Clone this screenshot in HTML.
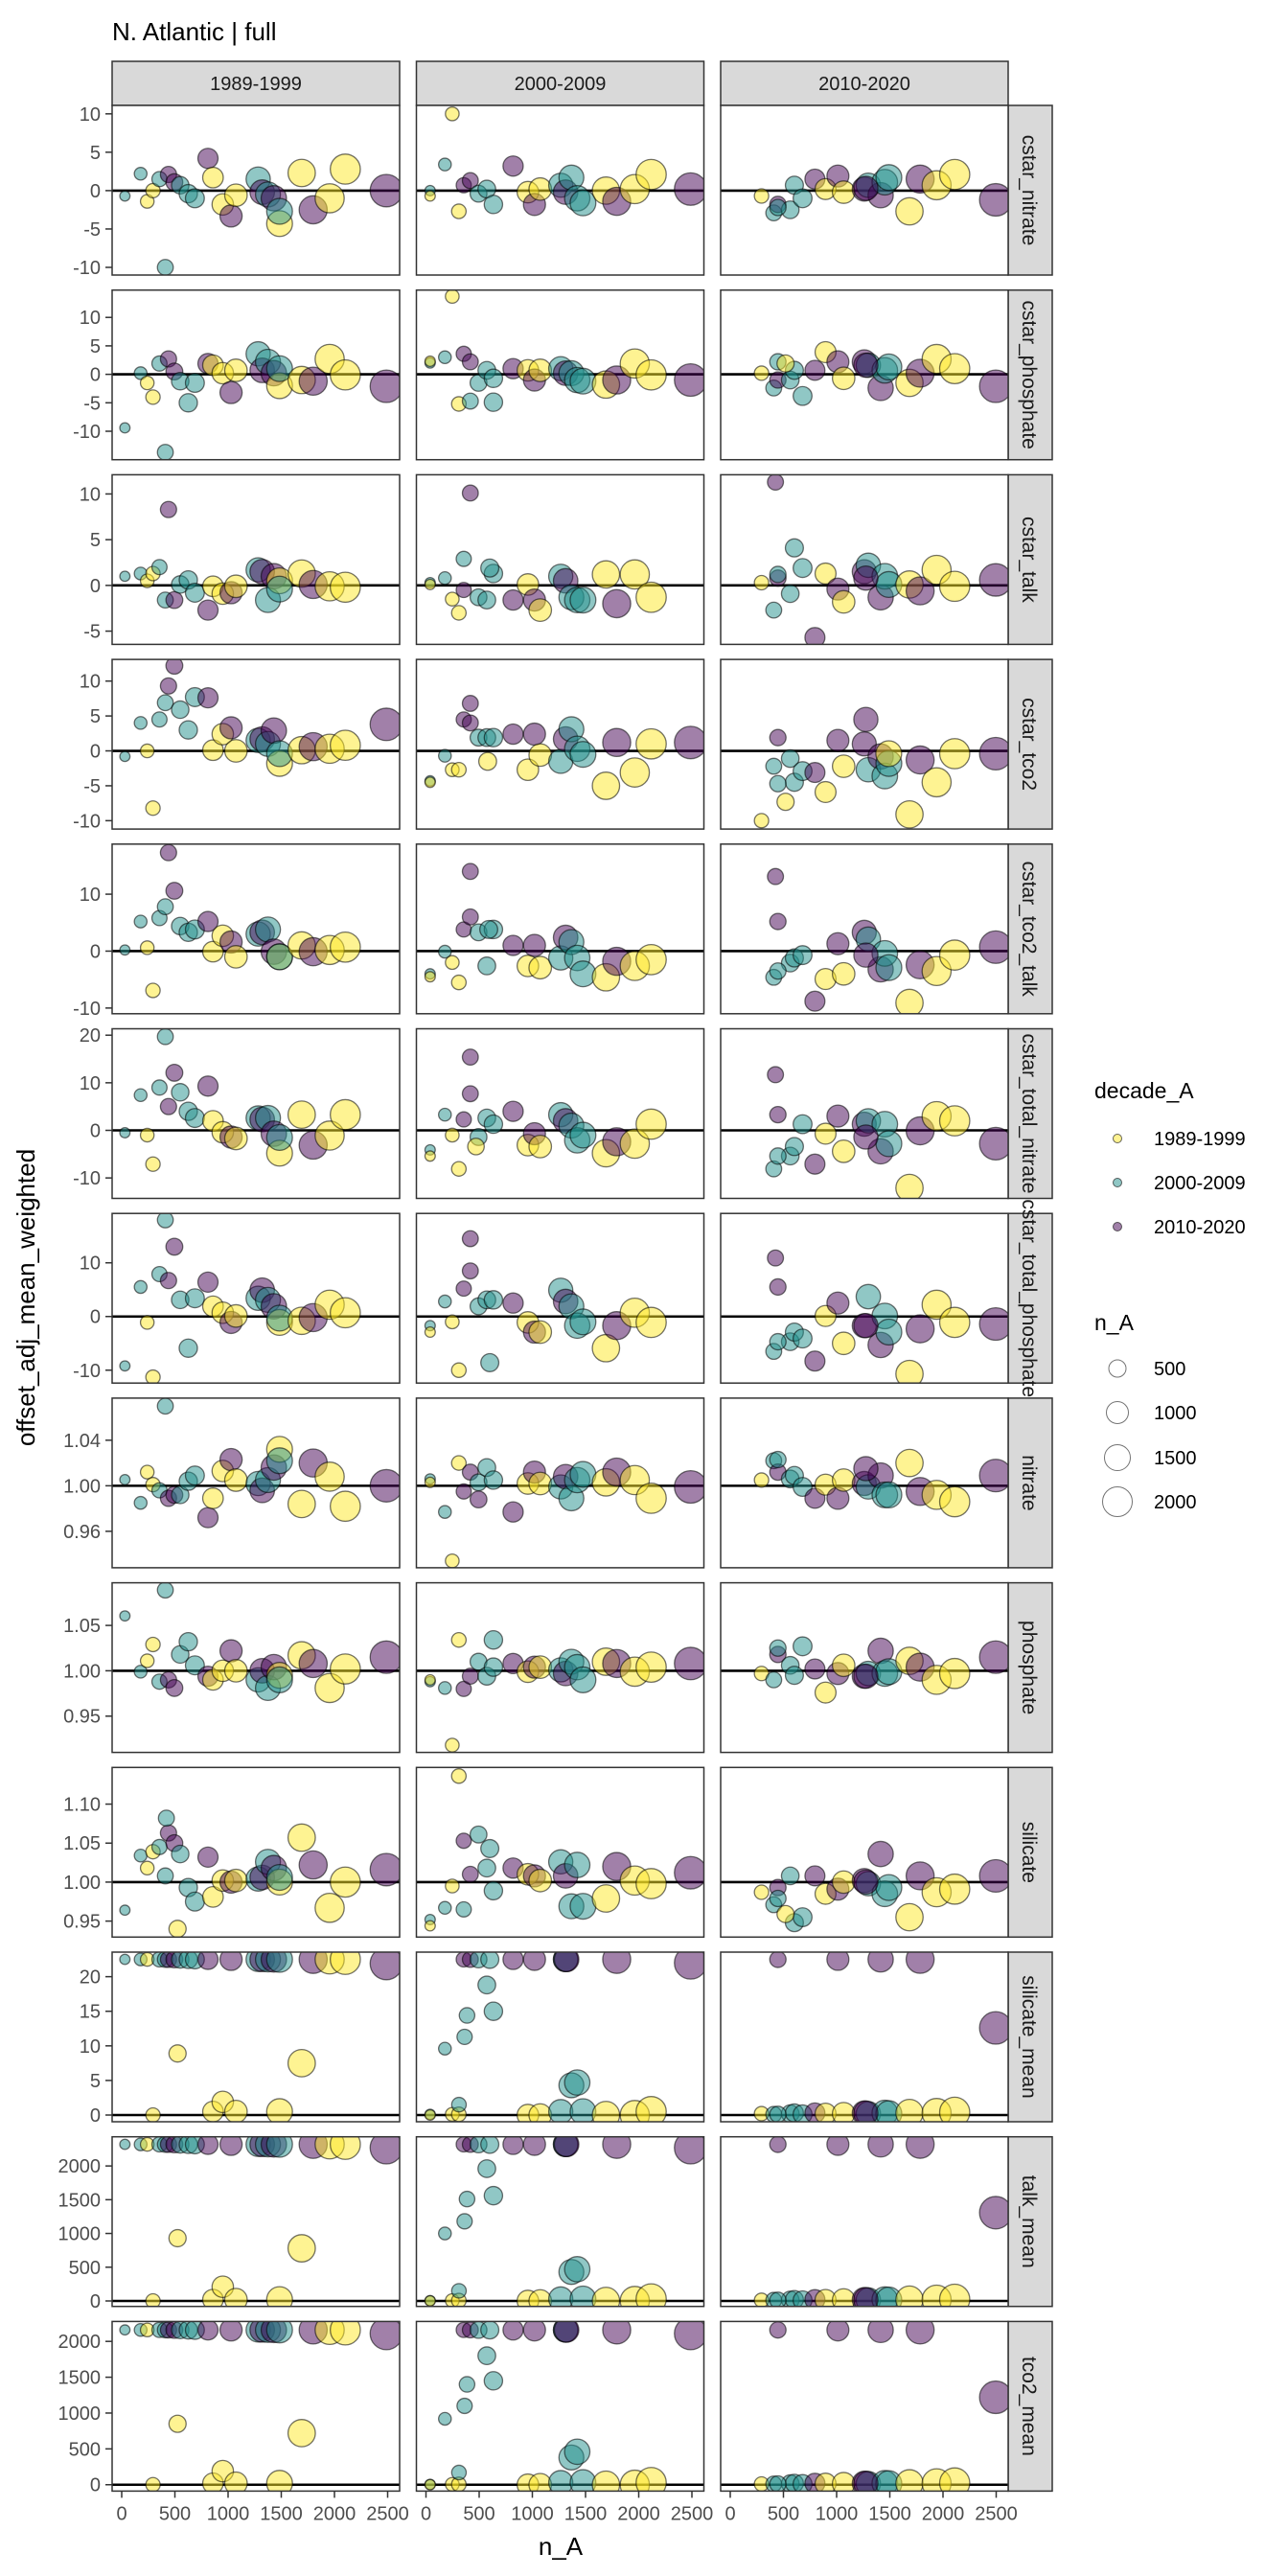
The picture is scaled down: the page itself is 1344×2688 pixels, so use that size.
<!DOCTYPE html>
<html><head><meta charset="utf-8"><style>
html,body{margin:0;padding:0;background:#fff;}
svg{display:block;font-family:"Liberation Sans",Arial,sans-serif;}
</style></head><body>
<svg id="chart" width="1344" height="2688" viewBox="0 0 1344 2688" xmlns="http://www.w3.org/2000/svg">
<text x="117" y="42" font-size="26" fill="#000">N. Atlantic | full</text>
<text transform="translate(36,1354) rotate(-90)" text-anchor="middle" font-size="26" fill="#000">offset_adj_mean_weighted</text>
<text x="585" y="2666" text-anchor="middle" font-size="26" fill="#000">n_A</text>
<g>
<text x="1142" y="1146" font-size="23">decade_A</text>
<circle cx="1166" cy="1188" r="4.5" fill="#FDE725" fill-opacity="0.5" stroke="#000" stroke-opacity="0.6"/>
<text x="1204" y="1195" font-size="20">1989-1999</text>
<circle cx="1166" cy="1234" r="4.5" fill="#21908C" fill-opacity="0.5" stroke="#000" stroke-opacity="0.6"/>
<text x="1204" y="1241" font-size="20">2000-2009</text>
<circle cx="1166" cy="1280" r="4.5" fill="#440154" fill-opacity="0.5" stroke="#000" stroke-opacity="0.6"/>
<text x="1204" y="1287" font-size="20">2010-2020</text>
</g>
<g>
<text x="1142" y="1388" font-size="23">n_A</text>
<circle cx="1166" cy="1428" r="9" fill="none" stroke="#000" stroke-opacity="0.55"/>
<text x="1204" y="1435" font-size="20">500</text>
<circle cx="1166" cy="1474" r="11.5" fill="none" stroke="#000" stroke-opacity="0.55"/>
<text x="1204" y="1481" font-size="20">1000</text>
<circle cx="1166" cy="1521" r="13.5" fill="none" stroke="#000" stroke-opacity="0.55"/>
<text x="1204" y="1528" font-size="20">1500</text>
<circle cx="1166" cy="1567" r="15.5" fill="none" stroke="#000" stroke-opacity="0.55"/>
<text x="1204" y="1574" font-size="20">2000</text>
</g>
</svg>
<script>
const decades = ['1989-1999','2000-2009','2010-2020'];
const rowNames = ['cstar_nitrate','cstar_phosphate','cstar_talk','cstar_tco2','cstar_tco2_talk','cstar_total_nitrate','cstar_total_phosphate','nitrate','phosphate','silicate','silicate_mean','talk_mean','tco2_mean'];
const yMin = [-11,-15,-6.45,-11.2,-11,-14.3,-12.4,0.928,0.910,0.9295,-0.97,-81,-89];
const yMax = [11.1,14.8,12.1,13.1,18.8,21.35,19.2,1.077,1.097,1.147,23.55,2432,2278];
const refLine = [0,0,0,0,0,0,0,1,1,1,0,0,0];
const yTicks = [[-10,-5,0,5,10],[-10,-5,0,5,10],[-5,0,5,10],[-10,-5,0,5,10],[-10,0,10],[-10,0,10,20],[-10,0,10],[0.96,1.00,1.04],[0.95,1.00,1.05],[0.95,1.00,1.05,1.10],[0,5,10,15,20],[0,500,1000,1500,2000],[0,500,1000,1500,2000]];
const yTickLabels = [['-10','-5','0','5','10'],['-10','-5','0','5','10'],['-5','0','5','10'],['-10','-5','0','5','10'],['-10','0','10'],['-10','0','10','20'],['-10','0','10'],['0.96','1.00','1.04'],['0.95','1.00','1.05'],['0.95','1.00','1.05','1.10'],['0','5','10','15','20'],['0','500','1000','1500','2000'],['0','500','1000','1500','2000']];
const xTicks = [0,500,1000,1500,2000,2500];

const col1N = [30,178,240,294,355,410,440,495,550,626,688,811,858,950,1028,1074,1283,1321,1375,1430,1484,1484,1692,1800,1955,2102,2488];
const col1D = ['t','t','y','y','t','t','p','p','t','t','t','p','y','y','p','y','t','p','t','p','y','t','y','p','y','y','p'];
const col2N = [39,178,247,309,355,417,494,572,634,819,958,1020,1074,1267,1313,1367,1422,1476,1692,1793,1963,2117,2488,39];
const col2D = ['t','t','y','y','p','p','t','t','t','p','y','p','y','t','p','t','t','t','y','p','y','y','p','y'];
const col3N = [294,409,448,564,603,680,796,896,1012,1066,1260,1298,1414,1453,1491,1685,1785,1940,2110,2496,448,1275];
const col3D = ['y','t','p','t','t','t','p','y','p','y','p','t','p','t','t','y','p','y','y','p','t','p'];

const valsCol1 = [
[-0.7,2.2,-1.4,0,1.5,-10,2.1,1.1,0.7,-0.4,-1,4.2,1.7,-1.8,-3.3,-0.6,1.5,-0.2,-0.5,-1,-4.3,-2.7,2.3,-2.5,-1,2.8,0],
[-9.4,0.2,-1.5,-4,1.9,-13.7,2.7,0.5,-1.2,-5,-1.5,1.9,1.6,0.2,-3.2,0.7,3.6,0.7,2.2,0.2,-2,1,-1,-1.2,2.7,-0.1,-2.1],
[1,1.3,0.5,1.3,2,-1.6,8.3,-1.6,0.1,0.6,-0.8,-2.7,-0.1,-0.9,-0.8,-0.1,1.7,1.5,-1.6,1,0.5,-0.4,1.3,0.1,-0.1,-0.2,null],
[-0.8,4,0,-8.2,4.5,6.9,9.3,12.2,5.9,3,7.7,7.6,0.1,2.4,3.3,0,1.5,1.7,1,2.9,-1.8,-0.4,0.1,0.6,0.3,0.8,3.8],
[0.2,5.2,0.6,-6.9,5.8,7.8,17.3,10.6,4.4,3.3,3.8,5.2,-0.1,2.7,1.6,-1,3,3.3,3.8,-0.1,-1,-1,1,-0.1,0.2,0.7,null],
[-0.5,7.4,-1,-7.1,9,19.7,5,12.1,8,4,2.6,9.3,2,-0.4,-1.4,-1.7,2.6,2.3,2.6,-0.7,-4.8,-1.5,3.3,-3.1,-1.1,3.3,null],
[-9.2,5.5,-1.1,-11.3,7.9,18,6.7,13,3.1,-5.9,3.4,6.4,1.9,0.7,-1.1,0.1,3.4,4.9,3.1,1.9,-1.1,-0.3,-0.8,-0.2,2.2,0.7,null],
[1.0054,0.985,1.012,1.001,0.996,1.07,0.989,0.992,0.992,1.004,1.009,0.972,0.989,1.013,1.023,1.005,1.002,0.996,1.005,1.016,1.032,1.022,0.984,1.02,1.008,0.982,1.0],
[1.0605,0.999,1.011,1.029,0.988,1.089,0.99,0.981,1.018,1.032,1.006,0.994,0.99,1.0,1.022,1.0,0.99,1.0,0.981,1.004,0.995,0.99,1.017,1.008,0.981,1.002,1.015],
[0.964,1.034,1.018,1.039,1.045,1.008,1.063,1.05,1.036,0.993,0.975,1.032,0.981,1.002,1.0,1.002,1.004,1.006,1.026,1.018,1.0,1.006,1.057,1.022,0.967,1.0,1.016],
[22.5,22.5,22.5,0,22.5,22.5,22.5,22.5,22.5,22.5,22.5,22.5,0.5,1.9,22.5,0.5,22.5,22.5,22.5,22.5,0.5,22.5,7.5,22.5,22.5,22.5,21.9],
[2320,2320,2320,0,2320,2320,2320,2320,2320,2320,2320,2320,20,210,2320,20,2320,2320,2320,2320,20,2320,780,2320,2320,2320,2270],
[2160,2160,2160,0,2160,2160,2160,2160,2160,2160,2160,2160,20,190,2160,20,2160,2160,2160,2160,20,2160,720,2160,2160,2160,2110]
];
const valsCol2 = [
[0,3.4,10,-2.7,0.7,1.3,-0.4,0.2,-1.8,3.2,-0.2,-1.8,0.2,0.7,-0.2,1.7,-1,-1.6,0,-1.4,0.2,2.1,0.2,-0.7],
[2,3,13.7,-5.2,3.6,2.2,-1.5,0.7,-0.7,1,0.7,-1,0.7,1,0.2,0.2,-1,-1.2,-1.8,-1,1.9,-0.1,-1,2.3],
[0.3,0.8,-1.5,-3,-0.5,10.1,-1.3,-1.6,1.3,-1.6,0.1,-1.6,-2.7,1,0.5,-1.3,-1.6,-1.6,1.2,-2,1.2,-1.3,null,0.1],
[-4.3,-0.7,-2.7,-2.7,4.5,6.8,1.9,1.9,1.9,2.4,-2.7,2.4,-0.6,-1.5,1.7,3.1,0.3,-0.5,-5,1.2,-3.1,1,1.2,-4.5],
[-4,-0.1,-2,-5.5,3.8,14,3.3,-2.6,3.8,1,-2.6,1,-2.9,-1.2,2.4,1.6,-1.2,-4,-4.6,-1.8,-2.6,-1.5,null,-4.5],
[-4.1,3.3,-1,-8.1,2.3,15.4,-1.4,2.6,1.3,4,-3.1,-0.7,-3.4,3.3,2,1,-2.1,-1,-4.8,-2.4,-2.8,1.3,null,-5.4],
[-1.7,2.8,-1,-10,5.2,14.5,1.9,3.1,3.1,2.5,-1.1,-2.9,-2.9,4.9,2.8,1.9,-1.7,-1,-5.9,-1.7,0.7,-1.1,null,-2.9],
[1.006,0.977,0.934,1.02,0.995,1.012,1.003,1.016,1.005,0.977,1.002,1.012,1.002,0.999,1.008,0.989,1.005,1.01,1.003,1.012,1.005,0.989,0.999,1.003],
[0.988,0.981,0.918,1.034,0.98,0.994,1.01,0.994,1.004,1.008,0.999,1.004,1.004,1.001,0.997,1.01,1.004,0.99,1.01,1.008,0.999,1.004,1.008,0.99],
[0.952,0.967,0.995,1.136,1.053,1.01,1.061,1.018,0.989,1.018,1.01,1.008,1.002,1.026,1.008,0.969,1.022,0.969,0.979,1.02,1.002,0.998,1.012,0.944],
[0.1,9.6,0.1,0.1,22.5,22.5,22.5,18.8,15,22.5,0,22.5,0,0.5,22.5,4.3,4.7,0.5,0,22.5,0,0.5,22,0],
[5,1000,5,5,2320,2320,2320,1960,1560,2320,0,2320,0,30,2320,430,470,30,0,2320,0,30,2270,0],
[5,920,5,5,2160,2160,2160,1800,1450,2160,0,2160,0,30,2160,380,460,30,0,2160,0,30,2110,0]
];
const valsCol3 = [
[-0.7,-2.9,-1.8,-2.5,0.7,-1,1.5,0.2,1.9,-0.2,0.2,0.7,-0.6,1.1,1.7,-2.7,1.5,0.7,2.1,-1.2,-2.2,0.3],
[0.2,-2.4,-1,-1,0.7,-3.8,0.7,3.9,2.2,-0.7,2.2,1.6,-2.4,0.7,1.3,-1.5,0.2,2.7,1,-2.1,2.2,1.6],
[0.3,-2.7,0.8,-0.9,4.1,1.9,-5.7,1.3,-0.4,-1.8,1.5,2.2,-1.3,1,0.1,0.1,-0.6,1.7,-0.1,0.6,1.2,0.8],
[-10,-2.2,1.9,-1.1,-4.5,-2.9,-3.1,-5.9,1.5,-2.2,1,-2.7,-0.8,-3.6,-1.8,-9.1,-1.3,-4.5,-0.4,-0.4,-4.7,4.5],
[null,-4.6,5.2,-2.1,-1.2,-0.7,-8.8,-4.9,1.3,-4,3.3,2.1,-3.2,-0.4,-2.9,-9.1,-2.4,-3.5,-0.7,0.7,-3.5,-0.7],
[null,-8.1,3.3,-5.4,-3.4,1.3,-7.1,-0.7,3,-4.4,1.3,2,-4.4,1.3,-2.8,-12.1,-0.1,3,2,-2.8,-5.4,-1.4],
[null,-6.5,5.5,-4.7,-2.9,-4.1,-8.3,0.1,2.5,-5,-1.7,3.7,-5.3,0.1,-2.9,-10.7,-2.3,2.2,-1.1,-1.4,-4.7,-1.7],
[1.005,1.022,1.012,1.006,1.009,0.999,0.989,1.001,0.989,1.005,1.002,0.999,1.009,0.992,0.992,1.02,0.995,0.992,0.986,1.009,1.023,1.015],
[0.997,0.99,1.018,1.006,0.995,1.027,1.002,0.976,0.997,1.006,0.994,0.997,1.022,0.997,0.999,1.011,1.004,0.99,0.997,1.015,1.025,0.994],
[0.987,0.971,0.993,1.008,0.948,0.955,1.008,0.985,0.991,1.0,1.002,0.998,1.036,0.985,0.993,0.955,1.008,0.987,0.991,1.008,0.979,1.0],
[0.2,0.1,22.5,0.2,0.3,0.1,0.3,0.2,22.5,0.2,0.3,0.2,22.5,0.3,0.2,0.3,22.5,0.3,0.4,12.6,0.1,0.3],
[10,10,2320,15,20,10,20,15,2320,15,20,15,2320,20,15,20,2320,20,25,1308,10,20],
[10,10,2160,15,20,10,20,15,2160,15,20,15,2160,20,15,20,2160,20,25,1220,10,20]
];
const extras = [
[[],[],[]],
[[],[[417,-4.7,'t'],[634,-4.9,'t']],[[520,1.9,'y']]],
[[],[[600,1.9,'t'],[355,2.9,'t']],[[425,11.3,'p']]],
[[],[[417,4,'p'],[580,-1.5,'y']],[[520,-7.3,'y'],[1490,-0.4,'y']]],
[[],[[417,6,'p'],[590,3.8,'t']],[[425,13.1,'p']]],
[[],[[417,7.7,'p'],[470,-3.4,'y']],[[425,11.7,'p']]],
[[],[[417,8.5,'p'],[600,-8.6,'t']],[[425,10.9,'p']]],
[[],[[494,0.988,'p']],[]],
[[],[[634,1.034,'t']],[]],
[[[525,0.94,'y'],[420,1.082,'t']],[[355,0.965,'t'],[600,1.043,'t']],[[520,0.959,'y']]],
[[[525,8.9,'y']],[[363,11.3,'t'],[386,14.4,'t'],[310,1.5,'t'],[600,22.5,'t'],[1313,22.5,'t'],[1322,22.5,'p']],[]],
[[[525,930,'y']],[[363,1180,'t'],[386,1510,'t'],[310,150,'t'],[600,2320,'t'],[1313,2320,'t'],[1322,2320,'p']],[]],
[[[525,850,'y']],[[363,1100,'t'],[386,1400,'t'],[310,170,'t'],[600,2160,'t'],[1313,2160,'t'],[1322,2160,'p']],[]]
];

const NS = 'http://www.w3.org/2000/svg';
const svg = document.getElementById('chart');
const colLeft = [117,434.5,752];
const panelW = 300, panelH = 177;
const stripX = 1052, stripW = 46;
const colors = {y:'#FDE725', t:'#21908C', p:'#440154'};
function rowTop(r){ return 110 + r*192.7; }
function xScale(c,n){ return colLeft[c] + 10 + n*0.111; }
function yScale(r,v){ return rowTop(r) + panelH*(yMax[r]-v)/(yMax[r]-yMin[r]); }
function rad(n){ return Math.sqrt(25 + 0.105*n); }
function mk(tag, attrs, parent){
  const e = document.createElementNS(NS, tag);
  for (const k in attrs) e.setAttribute(k, attrs[k]);
  (parent||svg).appendChild(e);
  return e;
}
const defs = mk('defs', {});
const colN = [col1N,col2N,col3N], colD = [col1D,col2D,col3D], colV = [valsCol1,valsCol2,valsCol3];

for (let c=0;c<3;c++){
  const g = mk('g',{});
  
  
  mk('rect',{x:colLeft[c],y:64,width:panelW,height:46,fill:'#D9D9D9',stroke:'#333','stroke-width':1.5},g);
  const t = mk('text',{x:colLeft[c]+panelW/2,y:94,'text-anchor':'middle','font-size':20,fill:'#1A1A1A'},g);
  t.textContent = decades[c];
}

for (let r=0;r<13;r++){
  const top = rowTop(r);
  const sg = mk('g',{});
  
  
  mk('rect',{x:stripX,y:top,width:stripW,height:panelH,fill:'#D9D9D9',stroke:'#333','stroke-width':1.5},sg);
  const st = mk('text',{transform:'translate('+(stripX+15)+','+(top+panelH/2)+') rotate(90)','text-anchor':'middle','font-size':21,fill:'#1A1A1A'},sg);
  st.textContent = rowNames[r];
  const ag = mk('g',{});
  
  
  for (let i=0;i<yTicks[r].length;i++){
    const y = yScale(r, yTicks[r][i]);
    mk('line',{x1:110,x2:117,y1:y,y2:y,stroke:'#333','stroke-width':1.5},ag);
    const tl = mk('text',{x:105,y:y+7,'text-anchor':'end','font-size':20,fill:'#4D4D4D'},ag);
    tl.textContent = yTickLabels[r][i];
  }
  for (let c=0;c<3;c++){
    const cid = 'clip-'+r+'-'+c;
    const cp = mk('clipPath',{id:cid},defs);
    mk('rect',{x:colLeft[c],y:top,width:panelW,height:panelH},cp);
    const pg = mk('g',{});
    
    
    mk('rect',{x:colLeft[c],y:top,width:panelW,height:panelH,fill:'#fff'},pg);
    const inner = mk('g',{'clip-path':'url(#'+cid+')'},pg);
    const yr = yScale(r, refLine[r]);
    const hl = mk('line',{x1:colLeft[c],x2:colLeft[c]+panelW,y1:yr,y2:yr,stroke:'#000','stroke-width':2.6},inner);
    
    
    const pts = [];
    const vals = colV[c][r];
    for (let i=0;i<vals.length;i++){ if (vals[i]!==null) pts.push([colN[c][i], vals[i], colD[c][i]]); }
    extras[r][c].forEach(p=>pts.push(p));
    pts.forEach(p=>{
      const ci = mk('circle',{cx:xScale(c,p[0]),cy:yScale(r,p[1]),r:rad(p[0]),fill:colors[p[2]],'fill-opacity':0.5,stroke:'#000','stroke-opacity':0.55,'stroke-width':1.3},inner);
      
      
    });
    mk('rect',{x:colLeft[c],y:top,width:panelW,height:panelH,fill:'none',stroke:'#333','stroke-width':1.5},pg);
  }
}
const bottom = rowTop(12)+panelH;
for (let c=0;c<3;c++){
  const xg = mk('g',{});
  
  
  xTicks.forEach(t=>{
    const x = xScale(c,t);
    mk('line',{x1:x,x2:x,y1:bottom,y2:bottom+7,stroke:'#333','stroke-width':1.5},xg);
    const tl = mk('text',{x:x,y:bottom+30,'text-anchor':'middle','font-size':20,fill:'#4D4D4D'},xg);
    tl.textContent = String(t);
  });
}
</script>
</body></html>
